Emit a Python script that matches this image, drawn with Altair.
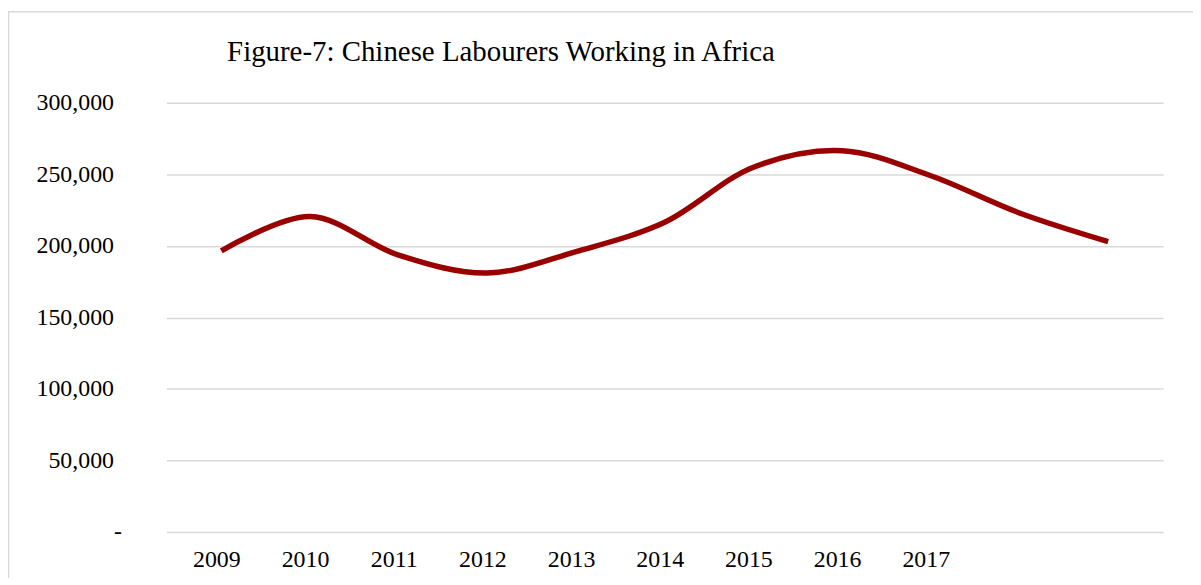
import altair as alt
import pandas as pd

# ---- data ----
years = ["2009", "2010", "2011", "2012", "2013", "2014", "2015", "2016", "2017", "2018", "2019"]
labourers = [196500, 220500, 193500, 181000, 196000, 216500, 255000, 266500, 249000, 223000, 203000]
x_tick_labels = ["2009", "2010", "2011", "2012", "2013", "2014", "2015", "2016", "2017"]
y_ticks = [0, 50000, 100000, 150000, 200000, 250000, 300000]

df = pd.DataFrame({"year": years, "value": labourers})

FONT = "Liberation Serif"
GRID = "#d9d9d9"

line = alt.Chart(df).mark_line(
    color="#990000", strokeWidth=5.5, interpolate="catmull-rom", strokeCap="butt"
).encode(
    x=alt.X(
        "year:O",
        scale=alt.Scale(type="point", padding=0.62),
        axis=alt.Axis(
            title=None,
            values=x_tick_labels,
            labelAngle=0,
            ticks=False,
            domain=False,
            grid=False,
            labelPadding=16,
            labelOffset=-5,
            labelFont=FONT,
            labelFontSize=24,
            labelColor="#000000",
        ),
    ),
    y=alt.Y(
        "value:Q",
        scale=alt.Scale(domain=[0, 300000], nice=False),
        axis=alt.Axis(
            title=None,
            values=y_ticks,
            format=",.0f",
            labelExpr="datum.value == 0 ? '-' : datum.label",
            labelAlign={"condition": {"test": "datum.value == 0", "value": "left"}, "value": "right"},
            ticks=False,
            domain=False,
            grid=True,
            gridColor=GRID,
            gridWidth=1.5,
            labelPadding=53,
            labelFont=FONT,
            labelFontSize=24,
            labelColor="#000000",
        ),
    ),
)

border = alt.Chart(pd.DataFrame({"k": [0]})).mark_rect(
    fill=None, stroke=GRID, strokeWidth=1.5
).encode(
    x=alt.value(-158.5), x2=alt.value(1200), y=alt.value(-91.5), y2=alt.value(700)
)

chart = alt.layer(border, line).properties(
    width=1001,
    height=431,
    padding={"left": 159, "top": 94, "right": 30, "bottom": 45},
    autosize=alt.AutoSizeParams(type="none"),
    background="white",
    title=alt.TitleParams(
        "Figure-7: Chinese Labourers Working in Africa",
        font=FONT,
        fontSize=29,
        fontWeight="normal",
        color="#000000",
        anchor="start",
        frame="group",
        dx=61,
        offset=0,
        dy=79,
        baseline="alphabetic",
    ),
).configure_view(stroke=None)

chart.save("out.html", embed_options={"renderer": "svg", "actions": False})
